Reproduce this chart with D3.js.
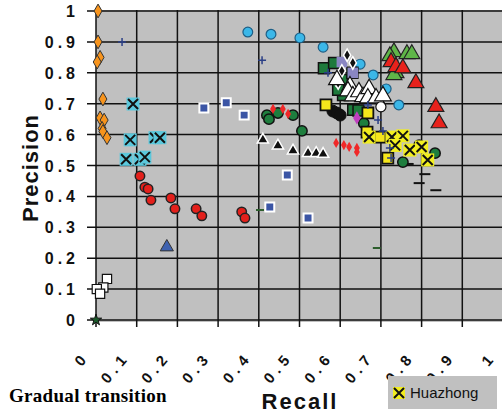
<!DOCTYPE html>
<html>
<head>
<meta charset="utf-8">
<script src="https://cdn.jsdelivr.net/npm/d3@7"></script>
<style>
body { margin: 0; background: #fff; }
</style>
</head>
<body>
<div id="chart"></div>
<script>
// axis ticks
var tickValues = [0, 0.1, 0.2, 0.3, 0.4, 0.5, 0.6, 0.7, 0.8, 0.9, 1];
var tickLabels = ["0", "0.1", "0.2", "0.3", "0.4", "0.5", "0.6", "0.7", "0.8", "0.9", "1"];

// [recall, precision]
var orangeDiamonds = [[0.005, 1.0], [0.005, 0.90], [0.01, 0.85], [0.003, 0.835], [0.017, 0.715], [0.01, 0.654], [0.02, 0.647], [0.015, 0.62], [0.017, 0.61], [0.027, 0.59]];
var cyanCrosses = [[0.091, 0.699], [0.084, 0.583], [0.145, 0.59], [0.157, 0.59], [0.074, 0.52], [0.108, 0.52], [0.12, 0.527]];
var redCircles = [[0.108, 0.466], [0.12, 0.43], [0.128, 0.424], [0.135, 0.388], [0.184, 0.395], [0.194, 0.36], [0.246, 0.36], [0.26, 0.337], [0.358, 0.35], [0.366, 0.33]];
var blueTriangles = [[0.174, 0.236]];
var whiteSquares = [[0.027, 0.133], [0.018, 0.105], [0.002, 0.1], [0.01, 0.085]];
var greenStars = [[0, 0]];
var blueSquares = [[0.265, 0.686], [0.32, 0.703], [0.364, 0.663], [0.47, 0.469], [0.427, 0.366], [0.521, 0.33]];
var navyPlus = [[0.064, 0.9], [0.408, 0.841], [0.57, 0.80], [0.668, 0.696], [0.693, 0.647], [0.705, 0.612], [0.722, 0.557], [0.725, 0.524]];
var greenDashes = [[0.403, 0.356], [0.69, 0.233]];
var blackDashes = [[0.767, 0.505], [0.808, 0.472], [0.794, 0.443], [0.835, 0.42]];
var skyCircles = [[0.373, 0.932], [0.43, 0.925], [0.501, 0.913], [0.558, 0.883], [0.649, 0.828], [0.681, 0.793], [0.713, 0.748], [0.744, 0.696]];
var greenTriangles = [[0.732, 0.867], [0.722, 0.854], [0.764, 0.861], [0.776, 0.861], [0.737, 0.799], [0.732, 0.793]];
var redTriangles = [[0.725, 0.835], [0.737, 0.819], [0.754, 0.815], [0.786, 0.767], [0.835, 0.69], [0.843, 0.637]];
var darkGreenSquares = [[0.56, 0.815], [0.585, 0.832], [0.604, 0.777], [0.63, 0.80], [0.607, 0.728], [0.595, 0.745], [0.632, 0.68], [0.645, 0.678]];
var lavenderSquares = [[0.604, 0.835], [0.631, 0.80]];
var blackDiamonds = [[0.617, 0.857], [0.631, 0.832], [0.604, 0.806], [0.59, 0.777], [0.595, 0.767]];
var whiteTriangles = [[0.592, 0.777], [0.624, 0.757], [0.619, 0.741], [0.631, 0.725], [0.646, 0.738], [0.656, 0.722], [0.671, 0.748], [0.668, 0.718], [0.688, 0.718], [0.705, 0.725]];
var blackTriangles = [[0.41, 0.583], [0.447, 0.564], [0.484, 0.548], [0.521, 0.54], [0.541, 0.54], [0.558, 0.537]];
var darkGreenCircles = [[0.42, 0.663], [0.425, 0.65], [0.447, 0.67], [0.484, 0.663], [0.506, 0.612], [0.658, 0.637], [0.794, 0.566], [0.833, 0.54], [0.754, 0.511]];
var redDots = [[0.435, 0.683], [0.459, 0.683], [0.472, 0.667], [0.59, 0.573], [0.609, 0.566], [0.622, 0.56], [0.641, 0.557], [0.641, 0.544]];
var yellowSquares = [[0.565, 0.696], [0.668, 0.67], [0.666, 0.608], [0.698, 0.592], [0.717, 0.524]];
var blackCircles = [[0.582, 0.676], [0.592, 0.67], [0.6, 0.663]];
var magentaDots = [[0.641, 0.654]];
var whitePentagons = [[0.70, 0.69]];
var huazhong = [[0.671, 0.592], [0.727, 0.592], [0.754, 0.596], [0.735, 0.565], [0.771, 0.55], [0.8, 0.56], [0.815, 0.518]];

function init() {
    var w = 502;
    var h = 414;

    var x = d3.scaleLinear().domain([0, 1]).range([96, 503]);
    var y = d3.scaleLinear().domain([0, 1]).range([320, 11]);

    var svg = d3.select("#chart")
        .append("svg")
        .attr("width", w)
        .attr("height", h)
        .style("font-family", "'Liberation Sans', Arial, sans-serif");

    // plot background
    svg.append("rect")
        .attr("x", x(0))
        .attr("y", 10)
        .attr("width", w - x(0))
        .attr("height", 312)
        .attr("fill", "#c0c0c0");

    // grid + ticks
    svg.selectAll("line.hgrid")
        .data(tickValues)
        .enter()
        .append("line")
        .attr("x1", 87)
        .attr("x2", w)
        .attr("y1", function (d) { return y(d); })
        .attr("y2", function (d) { return y(d); })
        .attr("stroke", "#111")
        .attr("stroke-width", 1.5);

    svg.selectAll("line.vgrid")
        .data(tickValues)
        .enter()
        .append("line")
        .attr("x1", function (d) { return x(d); })
        .attr("x2", function (d) { return x(d); })
        .attr("y1", 10)
        .attr("y2", 327)
        .attr("stroke", "#111")
        .attr("stroke-width", 1.5);

    // y tick labels
    svg.selectAll("text.ylab")
        .data(tickValues)
        .enter()
        .append("text")
        .text(function (d, i) { return tickLabels[i]; })
        .attr("x", 79)
        .attr("y", function (d) { return y(d) + 6; })
        .attr("text-anchor", "end")
        .attr("font-weight", "bold")
        .attr("font-size", "16px")
        .attr("letter-spacing", "4px")
        .attr("fill", "#111");

    // x tick labels, rotated
    svg.selectAll("text.xlab")
        .data(tickValues)
        .enter()
        .append("text")
        .text(function (d, i) { return tickLabels[i]; })
        .attr("transform", function (d) {
            return "translate(" + (x(d) - 6) + ",357) rotate(-50)";
        })
        .attr("text-anchor", "end")
        .attr("font-weight", "bold")
        .attr("font-size", "15px")
        .attr("letter-spacing", "5px")
        .attr("fill", "#111");

    // axis titles
    svg.append("text")
        .text("Precision")
        .attr("transform", "translate(38,168) rotate(-90)")
        .attr("text-anchor", "middle")
        .attr("font-weight", "bold")
        .attr("font-size", "22px")
        .attr("letter-spacing", "1px")
        .attr("fill", "#111");

    svg.append("text")
        .text("Recall")
        .attr("x", 300)
        .attr("y", 409)
        .attr("text-anchor", "middle")
        .attr("font-weight", "bold")
        .attr("font-size", "22px")
        .attr("letter-spacing", "2px")
        .attr("fill", "#111");

    svg.append("text")
        .text("Gradual transition")
        .attr("x", 9)
        .attr("y", 402)
        .attr("font-family", "'Liberation Serif', 'Times New Roman', serif")
        .attr("font-weight", "bold")
        .attr("font-size", "19px")
        .attr("letter-spacing", "0.3px")
        .attr("fill", "#000");

    var g = svg.append("g");

    // helpers
    function symbols(data, type, size, fill, stroke, sw) {
        g.append("g").selectAll("path")
            .data(data)
            .enter()
            .append("path")
            .attr("d", d3.symbol().type(type).size(size))
            .attr("transform", function (d) { return "translate(" + x(d[0]) + "," + y(d[1]) + ")"; })
            .attr("fill", fill)
            .attr("stroke", stroke)
            .attr("stroke-width", sw);
    }

    function crosses(data, bg, half) {
        var grp = g.append("g").selectAll("g")
            .data(data)
            .enter()
            .append("g")
            .attr("transform", function (d) { return "translate(" + x(d[0]) + "," + y(d[1]) + ")"; });
        grp.append("rect")
            .attr("x", -half - 1.5).attr("y", -half - 1.5)
            .attr("width", 2 * half + 3).attr("height", 2 * half + 3)
            .attr("fill", bg);
        grp.append("path")
            .attr("d", "M" + (-half) + "," + (-half) + "L" + half + "," + half + "M" + half + "," + (-half) + "L" + (-half) + "," + half)
            .attr("stroke", "#111")
            .attr("stroke-width", 2);
    }

    function dashes(data, color, len) {
        g.append("g").selectAll("line")
            .data(data)
            .enter()
            .append("line")
            .attr("x1", function (d) { return x(d[0]) - len / 2; })
            .attr("x2", function (d) { return x(d[0]) + len / 2; })
            .attr("y1", function (d) { return y(d[1]); })
            .attr("y2", function (d) { return y(d[1]); })
            .attr("stroke", color)
            .attr("stroke-width", 2);
    }

    function plus(data, color, len) {
        g.append("g").selectAll("path")
            .data(data)
            .enter()
            .append("path")
            .attr("d", "M" + (-len) + ",0H" + len + "M0," + (-len) + "V" + len)
            .attr("transform", function (d) { return "translate(" + x(d[0]) + "," + y(d[1]) + ")"; })
            .attr("stroke", color)
            .attr("stroke-width", 1.5);
    }

    symbols(orangeDiamonds, d3.symbolDiamond, 55, "#f7941d", "#333", 1);
    crosses(cyanCrosses, "#5bc8dc", 5);
    symbols(redCircles, d3.symbolCircle, 70, "#e3201b", "#222", 1.5);
    symbols(blueTriangles, d3.symbolTriangle, 75, "#3f62b0", "#333", 1);
    symbols(whiteSquares, d3.symbolSquare, 85, "#fff", "#111", 1.2);
    symbols(greenStars, d3.symbolStar, 40, "#1a5a2a", "#111", 1);
    symbols(blueSquares, d3.symbolSquare, 80, "#3b55a5", "#fff", 2);
    dashes(greenDashes, "#2d5e2d", 8);
    dashes(blackDashes, "#111", 11);
    symbols(skyCircles, d3.symbolCircle, 75, "#3bb7e8", "#1d5f86", 1.2);
    symbols(blackTriangles, d3.symbolTriangle, 55, "#111", "#fff", 1.5);
    symbols(darkGreenCircles, d3.symbolCircle, 85, "#1e7e3e", "#111", 1.5);
    symbols(redDots, d3.symbolDiamond, 30, "#f02828", "none", 0);
    symbols(greenTriangles, d3.symbolTriangle, 110, "#5fb548", "#222", 1.2);
    symbols(redTriangles, d3.symbolTriangle, 110, "#e8221c", "#222", 1.2);
    symbols(darkGreenSquares, d3.symbolSquare, 120, "#1e7a3c", "#111", 1.5);
    symbols(lavenderSquares, d3.symbolSquare, 110, "#8a86c2", "none", 0);
    symbols(blackDiamonds, d3.symbolDiamond, 45, "#111", "#fff", 1.5);
    symbols(whiteTriangles, d3.symbolTriangle, 120, "#fff", "#111", 1.2);
    symbols(blackCircles, d3.symbolCircle, 110, "#111", "#111", 1);
    symbols(magentaDots, d3.symbolDiamond, 50, "#c040c0", "none", 0);
    symbols(whitePentagons, d3.symbolCircle, 80, "#fff", "#111", 1.2);
    symbols(yellowSquares, d3.symbolSquare, 120, "#f5e61c", "#111", 1.8);
    crosses(huazhong, "#f2ee20", 5);
    plus(navyPlus, "#2b3f86", 4);

    // legend
    svg.append("rect")
        .attr("x", 388)
        .attr("y", 376)
        .attr("width", 109)
        .attr("height", 33)
        .attr("fill", "#c0c0c0");

    var lg = svg.append("g").attr("transform", "translate(399,393)");
    lg.append("rect")
        .attr("x", -6).attr("y", -6).attr("width", 12).attr("height", 12)
        .attr("fill", "#f2ee20");
    lg.append("path")
        .attr("d", "M-5,-5L5,5M5,-5L-5,5")
        .attr("stroke", "#111")
        .attr("stroke-width", 2);

    svg.append("text")
        .text("Huazhong")
        .attr("x", 410)
        .attr("y", 398)
        .attr("font-size", "15px")
        .attr("fill", "#111");
}

window.onload = init;
</script>
</body>
</html>
